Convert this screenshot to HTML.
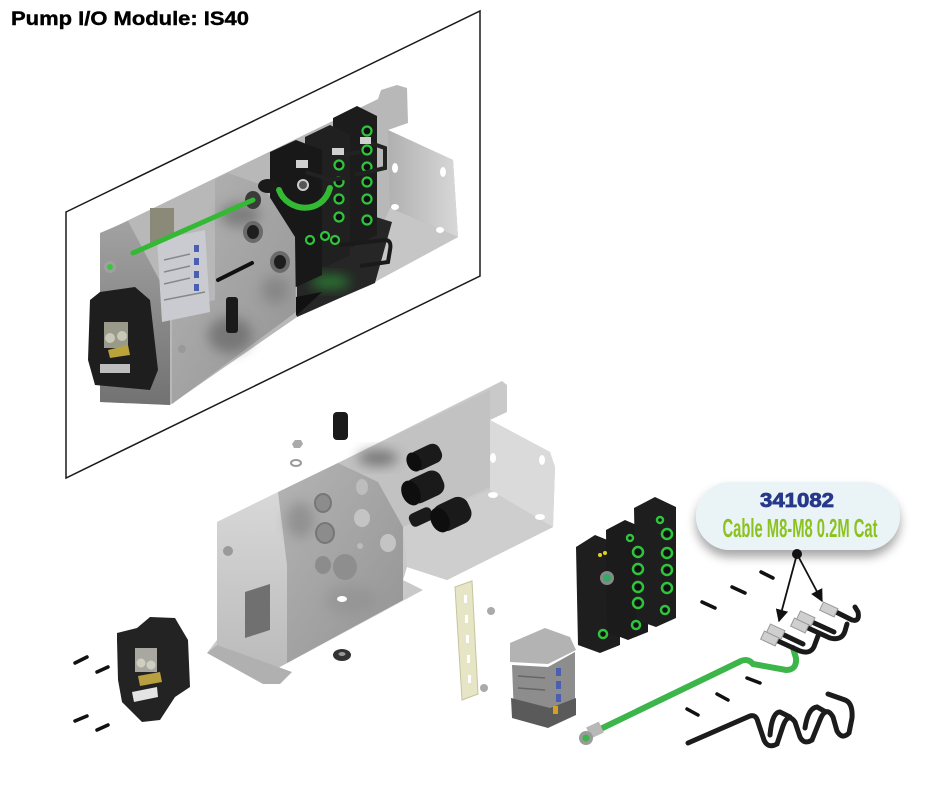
<!DOCTYPE html>
<html><head><meta charset="utf-8"><style>
html,body{margin:0;padding:0;background:#fff;}
#c{position:relative;width:940px;height:788px;overflow:hidden;background:#fff;}
svg{position:absolute;left:0;top:0;}
</style></head><body><div id="c">
<svg width="940" height="788" viewBox="0 0 940 788" xmlns="http://www.w3.org/2000/svg">
<defs>
<linearGradient id="mM" x1="0" y1="0" x2="1" y2="1"><stop offset="0" stop-color="#b4b4b4"/><stop offset="1" stop-color="#939393"/></linearGradient>
<linearGradient id="mD" x1="0" y1="0" x2="0" y2="1"><stop offset="0" stop-color="#a2a2a2"/><stop offset="1" stop-color="#727272"/></linearGradient>
<linearGradient id="mE" x1="0" y1="0" x2="0" y2="1"><stop offset="0" stop-color="#d8d8d8"/><stop offset="1" stop-color="#bababa"/></linearGradient>
<linearGradient id="mR" x1="0" y1="0" x2="1" y2="0"><stop offset="0" stop-color="#b0b0b0"/><stop offset="1" stop-color="#d8d8d8"/></linearGradient>
<filter id="bl" x="-50%" y="-50%" width="200%" height="200%"><feGaussianBlur stdDeviation="6"/></filter>
<filter id="sh" x="-20%" y="-30%" width="140%" height="180%"><feDropShadow dx="0" dy="7" stdDeviation="5" flood-color="#000" flood-opacity="0.35"/></filter>
<marker id="ar" viewBox="0 0 10 10" refX="9" refY="5" markerWidth="7" markerHeight="7" orient="auto"><path d="M0,0 L10,5 L0,10 z" fill="#111"/></marker>
</defs>

<!-- Title -->
<text x="11" y="25" font-family="Liberation Sans, sans-serif" font-weight="bold" font-size="19" textLength="238" lengthAdjust="spacingAndGlyphs" fill="#000" stroke="#000" stroke-width="0.4">Pump I/O Module: IS40</text>

<!-- Frame -->
<polygon points="66,212 480,11 480,276 66,478" fill="none" stroke="#1a1a1a" stroke-width="1.5"/>

<!-- ===== Upper assembly ===== -->
<polygon points="102,233 378,99 381,90 397,85 407,88 408,123 388,130 453,160 458,237 373,283 297,317 170,405 100,402" fill="#b8b8b8"/>
<polygon points="388,130 453,160 458,237 390,208" fill="url(#mR)"/>
<polygon points="390,208 458,237 373,283 362,270" fill="#c6c6c6"/>
<ellipse cx="395" cy="168" rx="3" ry="5" fill="#fff"/>
<ellipse cx="443" cy="172" rx="3" ry="5" fill="#fff"/>
<ellipse cx="395" cy="207" rx="4" ry="3" fill="#fff"/>
<ellipse cx="440" cy="230" rx="4" ry="3" fill="#fff"/>
<polygon points="297,240 360,212 392,222 375,283 340,298 297,317" fill="#262626"/>
<ellipse cx="330" cy="282" rx="20" ry="7" fill="#2d9a3a" opacity="0.7" filter="url(#bl)"/>
<!-- modules -->
<polygon points="333,118 357,106 377,116 377,235 352,247 333,238" fill="#1c1c1c"/>
<polygon points="305,137 330,125 350,135 350,255 325,267 305,258" fill="#202020"/>
<polygon points="270,152 296,140 322,150 322,275 296,287 270,277" fill="#181818"/>
<g fill="#111" stroke="#2fc43c" stroke-width="2.2">
<circle cx="367" cy="131" r="4.5"/><circle cx="367" cy="150" r="4.5"/><circle cx="367" cy="167" r="4.5"/><circle cx="367" cy="182" r="4.5"/><circle cx="367" cy="199" r="4.5"/><circle cx="367" cy="220" r="4.5"/>
<circle cx="339" cy="165" r="4.5"/><circle cx="339" cy="182" r="4.5"/><circle cx="339" cy="199" r="4.5"/><circle cx="339" cy="217" r="4.5"/><circle cx="335" cy="240" r="4"/>
<circle cx="310" cy="240" r="4"/><circle cx="325" cy="236" r="4"/>
</g>
<path d="M306,172 L330,180 L345,178 M340,155 L360,152 M365,141 L385,148 L385,168 L355,175" stroke="#222" stroke-width="4" fill="none"/>
<rect x="296" y="160" width="12" height="8" fill="#d0d0d0"/>
<rect x="332" y="148" width="12" height="7" fill="#d0d0d0"/>
<rect x="360" y="137" width="11" height="7" fill="#d0d0d0"/>
<circle cx="303" cy="185" r="5" fill="#555" stroke="#ccc" stroke-width="2"/>
<path d="M340,245 L385,240 Q392,240 390,250 L388,262 L360,266" stroke="#1a1a1a" stroke-width="4" fill="none"/>
<!-- end plate -->
<polygon points="100,233 128,221 170,300 170,405 100,402" fill="url(#mD)"/>
<!-- bulkhead -->
<polygon points="215,179 228,173 262,185 295,237 296,312 172,404 172,310 215,300" fill="url(#mM)"/>
<ellipse cx="240" cy="215" rx="20" ry="12" fill="#555" opacity="0.5" filter="url(#bl)"/>
<ellipse cx="230" cy="335" rx="22" ry="18" fill="#555" opacity="0.55" filter="url(#bl)"/>
<ellipse cx="275" cy="290" rx="14" ry="14" fill="#666" opacity="0.4" filter="url(#bl)"/>
<polygon points="296,297 322,292 296,316" fill="#111"/>
<ellipse cx="253" cy="200" rx="8" ry="9" fill="#3a3a3a"/>
<ellipse cx="253" cy="232" rx="10" ry="11" fill="#6a6a6a"/><ellipse cx="253" cy="232" rx="6" ry="7" fill="#1e1e1e"/>
<ellipse cx="280" cy="262" rx="10" ry="11" fill="#6a6a6a"/><ellipse cx="280" cy="262" rx="6" ry="7" fill="#1e1e1e"/>
<line x1="218" y1="280" x2="252" y2="263" stroke="#111" stroke-width="4" stroke-linecap="round"/>
<rect x="226" y="297" width="12" height="36" rx="3" fill="#1a1a1a"/>
<ellipse cx="268" cy="186" rx="10" ry="7" fill="#1a1a1a"/>
<!-- terminal block -->
<rect x="150" y="208" width="24" height="36" fill="#8b8a78"/>
<polygon points="157,240 205,230 210,312 162,322" fill="#c9cbd0"/>
<g fill="#4a5fb0"><rect x="194" y="245" width="5" height="7"/><rect x="194" y="258" width="5" height="7"/><rect x="194" y="271" width="5" height="7"/><rect x="194" y="284" width="5" height="7"/></g>
<g stroke="#888" stroke-width="1.5"><line x1="164" y1="260" x2="190" y2="254"/><line x1="164" y1="272" x2="190" y2="266"/><line x1="164" y1="284" x2="190" y2="278"/><line x1="164" y1="300" x2="205" y2="292"/></g>
<!-- green cables -->
<path d="M133,253 L253,200" stroke="#34b934" stroke-width="5" stroke-linecap="round" fill="none"/>
<path d="M279,190 C287,212 322,216 330,188" stroke="#34b934" stroke-width="6" stroke-linecap="round" fill="none"/>
<!-- connector -->
<polygon points="90,300 100,292 135,287 150,300 158,370 150,390 95,385 88,360" fill="#1e1e1e"/>
<rect x="104" y="322" width="24" height="26" fill="#9a9a8a"/>
<circle cx="110" cy="338" r="5" fill="#c8c8b8"/><circle cx="122" cy="336" r="5" fill="#c8c8b8"/>
<polygon points="108,350 128,345 130,355 110,358" fill="#b9a33a"/>
<rect x="100" y="364" width="30" height="9" fill="#bdbdbd"/>
<circle cx="110" cy="267" r="6" fill="#a0a0a0"/><circle cx="110" cy="267" r="3" fill="#3fc43f"/>
<circle cx="182" cy="349" r="4" fill="#999"/>

<!-- ===== Lower area ===== -->
<polygon points="295,440 301,440 303,444 300,448 294,448 292,444" fill="#aaa"/>
<ellipse cx="296" cy="463" rx="5" ry="3" fill="none" stroke="#999" stroke-width="2"/>
<rect x="333" y="412" width="15" height="28" rx="4" fill="#1a1a1a"/>

<!-- bracket -->
<polygon points="217,522 338,463 502,381 507,385 507,412 490,420 550,452 555,467 553,527 447,580 407,567 403,580 423,590 280,667 263,683 207,653 217,640" fill="#c9c9c9"/>
<polygon points="338,463 490,390 490,487 403,527 378,482" fill="#c2c2c2"/>
<polygon points="490,420 550,452 555,467 553,527 490,490" fill="#dadada"/>
<polygon points="403,527 490,490 553,527 447,580 407,567" fill="#cecece"/>
<polygon points="217,522 278,492 287,565 287,663 263,675 217,652" fill="url(#mE)"/>
<polygon points="278,492 338,463 378,482 403,527 403,600 287,663 287,565" fill="url(#mM)"/>
<ellipse cx="378" cy="458" rx="20" ry="8" fill="#444" opacity="0.6" filter="url(#bl)"/>
<ellipse cx="300" cy="520" rx="14" ry="18" fill="#777" opacity="0.5" filter="url(#bl)"/>
<ellipse cx="350" cy="600" rx="25" ry="14" fill="#888" opacity="0.4" filter="url(#bl)"/>
<polygon points="207,653 217,645 292,672 280,684 263,684" fill="#b0b0b0"/>
<circle cx="228" cy="551" r="5" fill="#9a9a9a"/>
<polygon points="245,592 270,584 270,630 245,638" fill="#707070"/>
<ellipse cx="323" cy="503" rx="8" ry="9" fill="#8c8c8c" stroke="#777" stroke-width="2"/>
<ellipse cx="325" cy="533" rx="9" ry="10" fill="#8c8c8c" stroke="#777" stroke-width="2"/>
<ellipse cx="323" cy="565" rx="8" ry="9" fill="#8c8c8c"/>
<ellipse cx="362" cy="487" rx="6" ry="8" fill="#bdbdbd"/>
<ellipse cx="362" cy="518" rx="8" ry="9" fill="#c4c4c4"/>
<ellipse cx="388" cy="543" rx="8" ry="9" fill="#c4c4c4"/>
<ellipse cx="345" cy="567" rx="12" ry="13" fill="#8e8e8e"/>
<circle cx="360" cy="546" r="3" fill="#bbb"/>
<ellipse cx="342" cy="599" rx="5" ry="3" fill="#fff"/>
<ellipse cx="493" cy="458" rx="3" ry="5" fill="#fff"/>
<ellipse cx="542" cy="460" rx="3" ry="5" fill="#fff"/>
<ellipse cx="493" cy="495" rx="5" ry="3" fill="#fff"/>
<ellipse cx="540" cy="517" rx="5" ry="3" fill="#fff"/>
<!-- glands -->
<g fill="#1a1a1a">
<rect x="410" y="447" width="32" height="20" rx="8" transform="rotate(-25 426 457)"/>
<ellipse cx="414" cy="462" rx="7" ry="10" transform="rotate(-25 414 462)" fill="#0e0e0e"/>
<rect x="406" y="474" width="38" height="26" rx="10" transform="rotate(-25 425 487)"/>
<ellipse cx="411" cy="493" rx="9" ry="13" transform="rotate(-25 411 493)" fill="#0e0e0e"/>
<rect x="409" y="510" width="24" height="14" rx="5" transform="rotate(-25 421 517)"/>
<rect x="433" y="500" width="38" height="28" rx="11" transform="rotate(-25 452 514)"/>
<ellipse cx="440" cy="520" rx="9" ry="13" transform="rotate(-25 440 520)" fill="#0e0e0e"/>
</g>
<!-- washer -->
<ellipse cx="342" cy="655" rx="9" ry="6" fill="#333"/><ellipse cx="342" cy="654" rx="3.5" ry="2" fill="#999"/>
<!-- DIN rail -->
<polygon points="455,587 472,581 478,694 462,700" fill="#e6e6c6" stroke="#c4c4a0" stroke-width="1"/>
<g fill="#fff"><rect x="464" y="595" width="3" height="8"/><rect x="465" y="615" width="3" height="8"/><rect x="466" y="635" width="3" height="8"/><rect x="467" y="655" width="3" height="8"/><rect x="468" y="675" width="3" height="8"/></g>
<circle cx="491" cy="611" r="4" fill="#aaa"/>
<circle cx="484" cy="688" r="4" fill="#aaa"/>
<!-- terminal block lower -->
<polygon points="512,665 548,667 575,652 575,712 550,724 514,716" fill="#8d8d8d"/>
<g fill="#4a5fb0"><rect x="556" y="668" width="5" height="8"/><rect x="556" y="681" width="5" height="8"/><rect x="556" y="694" width="5" height="8"/></g>
<g stroke="#666" stroke-width="1.5"><line x1="518" y1="676" x2="545" y2="678"/><line x1="518" y1="688" x2="545" y2="690"/></g>
<polygon points="510,643 545,628 570,637 576,650 548,664 510,662" fill="#b3b3b3"/>
<polygon points="511,698 550,708 576,698 576,715 548,728 512,718" fill="#5a5a5a"/>
<rect x="553" y="706" width="5" height="8" fill="#d4a020"/>

<!-- lower modules -->
<polygon points="576,547 595,535 620,545 620,645 600,653 578,645" fill="#1e1e1e"/>
<polygon points="606,530 625,520 648,530 648,632 628,640 607,632" fill="#1b1b1b"/>
<polygon points="634,508 655,497 676,507 676,618 656,627 636,620" fill="#1e1e1e"/>
<g fill="#111" stroke="#2fc43c" stroke-width="2.5">
<circle cx="638" cy="552" r="5"/><circle cx="638" cy="569" r="5"/><circle cx="638" cy="587" r="5"/><circle cx="638" cy="603" r="5"/><circle cx="636" cy="625" r="4"/>
<circle cx="667" cy="534" r="5"/><circle cx="667" cy="553" r="5"/><circle cx="667" cy="570" r="5"/><circle cx="667" cy="588" r="5"/><circle cx="665" cy="610" r="4"/>
<circle cx="630" cy="538" r="3"/><circle cx="660" cy="520" r="3"/><circle cx="603" cy="634" r="4"/>
</g>
<circle cx="607" cy="578" r="7" fill="#888"/><circle cx="607" cy="578" r="4" fill="#3a6" />
<circle cx="600" cy="555" r="2" fill="#e0d020"/><circle cx="605" cy="553" r="2" fill="#e0d020"/>

<!-- lower connector housing -->
<polygon points="117,633 137,628 150,617 175,618 188,640 190,687 175,697 160,720 142,722 122,702 118,680 117,640" fill="#232323"/>
<rect x="135" y="648" width="22" height="24" fill="#a8a8a0"/>
<circle cx="141" cy="663" r="4.5" fill="#cfcfc0"/><circle cx="151" cy="665" r="4.5" fill="#cfcfc0"/>
<polygon points="138,676 160,672 162,682 140,686" fill="#b8a040"/>
<polygon points="132,692 157,687 158,697 134,702" fill="#e4e4e4"/>
<!-- screws -->
<g stroke="#111" stroke-width="3.5" stroke-linecap="round">
<line x1="75" y1="663" x2="87" y2="657"/><line x1="97" y1="672" x2="108" y2="667"/>
<line x1="75" y1="721" x2="87" y2="716"/><line x1="97" y1="730" x2="108" y2="725"/>
<line x1="761" y1="572" x2="773" y2="578"/><line x1="732" y1="587" x2="745" y2="593"/>
<line x1="702" y1="602" x2="715" y2="608"/><line x1="747" y1="678" x2="760" y2="683"/>
<line x1="717" y1="694" x2="728" y2="700"/><line x1="687" y1="709" x2="698" y2="715"/>
</g>

<!-- green cable lower -->
<path d="M588,735 L741,661 Q748,658 753,664 L786,670 Q797,670 796,658 L793,648" stroke="#3cb54a" stroke-width="6" stroke-linecap="round" fill="none"/>
<rect x="588" y="724" width="14" height="12" fill="#b8b8b8" transform="rotate(-25 595 730)"/>
<circle cx="586" cy="738" r="7" fill="#9a9a9a"/><circle cx="586" cy="738" r="3.5" fill="#3cb54a"/>

<!-- jumper plugs -->
<g stroke="#1a1a1a" stroke-width="5" fill="none" stroke-linecap="round">
<path d="M778,641 L800,651 Q812,655 815,644 L818,636"/>
<path d="M782,634 L803,644"/>
<path d="M808,628 L830,638 Q842,641 845,631 L847,624"/>
<path d="M812,622 L834,632"/>
<path d="M836,612 L852,620 Q860,622 858,612 L855,607"/>
</g>
<g fill="#cfcfcf" stroke="#999" stroke-width="1">
<rect x="762" y="634" width="16" height="9" transform="rotate(25 770 638)"/>
<rect x="768" y="627" width="16" height="9" transform="rotate(25 776 631)"/>
<rect x="792" y="621" width="16" height="9" transform="rotate(25 800 625)"/>
<rect x="798" y="614" width="16" height="9" transform="rotate(25 806 618)"/>
<rect x="821" y="605" width="16" height="9" transform="rotate(25 829 609)"/>
</g>

<!-- bottom black cables -->
<g stroke="#1c1c1c" stroke-width="5" fill="none" stroke-linecap="round">
<path d="M688,743 L750,716 Q756,714 758,722 L764,740 Q768,749 777,744 L783,726 Q788,712 795,722 L800,737 Q804,745 812,740 L820,720 Q826,705 833,717 L837,731 Q842,740 849,733 L852,718 Q853,703 845,700 L828,694"/>
<path d="M770,735 Q772,712 780,712 L790,717 M805,728 Q808,708 817,707 L826,712"/>
</g>

<!-- callout -->
<rect x="696" y="482" width="204" height="68" rx="34" ry="34" fill="#eaf4f7" filter="url(#sh)"/>
<text x="797" y="507" text-anchor="middle" font-family="Liberation Sans, sans-serif" font-weight="bold" font-size="20" textLength="74" lengthAdjust="spacingAndGlyphs" fill="#27388a" stroke="#27388a" stroke-width="0.8">341082</text>
<text x="800" y="537" text-anchor="middle" font-family="Liberation Sans Narrow, Liberation Sans, sans-serif" font-weight="bold" font-size="26" textLength="155" lengthAdjust="spacingAndGlyphs" fill="#8cc21f">Cable M8-M8 0.2M Cat</text>
<line x1="797" y1="554" x2="779" y2="621" stroke="#111" stroke-width="1.8" marker-end="url(#ar)"/>
<line x1="797" y1="554" x2="822" y2="601" stroke="#111" stroke-width="1.8" marker-end="url(#ar)"/>
<circle cx="797" cy="554" r="5" fill="#111"/>
</svg>
</div></body></html>
